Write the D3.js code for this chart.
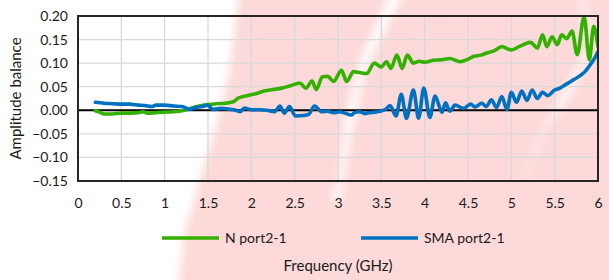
<!DOCTYPE html>
<html lang="en">
<head>
    <meta charset="UTF-8">
    <title>Amplitude balance</title>
    <script src="https://cdn.jsdelivr.net/npm/d3@7"></script>
    <style>
        body {
            margin: 0;
            background: #fff;
        }

        text {
            font-family: Lato, "Open Sans", sans-serif;
            fill: #1a1a1a;
        }

        .grid line {
            stroke: #d9d9d9;
            stroke-width: 1.3px;
        }
    </style>
</head>
<body>
<script>
    // N port2-1 (green)
    var freqN = [0.2, 0.25, 0.3, 0.4, 0.5, 0.6, 0.7, 0.75, 0.8, 0.9, 1.0, 1.1, 1.2, 1.3, 1.4, 1.5, 1.6, 1.7, 1.79, 1.85,
        1.95, 2.05, 2.15, 2.25, 2.35, 2.45, 2.56, 2.63, 2.7, 2.75, 2.82, 2.88, 2.95, 3.04, 3.1, 3.18, 3.25, 3.33, 3.42, 3.5,
        3.56, 3.61, 3.68, 3.74, 3.8, 3.87, 3.94, 4.0, 4.1, 4.18, 4.29, 4.41, 4.5, 4.56, 4.65, 4.71, 4.8, 4.89, 5.0, 5.1,
        5.22, 5.3, 5.36, 5.41, 5.47, 5.53, 5.58, 5.64, 5.7, 5.76, 5.84, 5.9, 5.95, 6.0];
    var ampN = [-0.001, -0.004, -0.008, -0.008, -0.006, -0.006, -0.005, -0.003, -0.006, -0.005, -0.004, -0.003, -0.001, 0.004, 0.009, 0.012, 0.014, 0.015, 0.018, 0.026,
        0.031, 0.035, 0.041, 0.044, 0.047, 0.052, 0.058, 0.047, 0.062, 0.044, 0.071, 0.072, 0.061, 0.085, 0.061, 0.082, 0.080, 0.078, 0.100, 0.092,
        0.103, 0.089, 0.117, 0.089, 0.117, 0.100, 0.104, 0.102, 0.106, 0.107, 0.110, 0.103, 0.108, 0.114, 0.117, 0.121, 0.126, 0.135, 0.128, 0.136,
        0.144, 0.132, 0.160, 0.135, 0.156, 0.139, 0.160, 0.152, 0.168, 0.118, 0.199, 0.107, 0.178, 0.135];

    // SMA port2-1 (blue)
    var freqSMA = [0.2, 0.3, 0.4, 0.5, 0.6, 0.7, 0.77, 0.85, 0.9, 1.0, 1.1, 1.2, 1.29, 1.35, 1.44, 1.49, 1.56, 1.65, 1.72, 1.8,
        1.87, 1.92, 2.0, 2.1, 2.18, 2.27, 2.33, 2.38, 2.44, 2.51, 2.6, 2.66, 2.73, 2.81, 2.88, 2.95, 3.02, 3.08, 3.15, 3.2,
        3.25, 3.31, 3.36, 3.42, 3.48, 3.55, 3.6, 3.67, 3.73, 3.79, 3.87, 3.93, 3.99, 4.06, 4.12, 4.2, 4.24, 4.29, 4.35, 4.45,
        4.53, 4.58, 4.66, 4.71, 4.77, 4.83, 4.89, 4.95, 5.0, 5.06, 5.12, 5.18, 5.24, 5.3, 5.36, 5.42, 5.5, 5.56, 5.64, 5.71,
        5.79, 5.85, 5.9, 5.96, 6.0];
    var ampSMA = [0.017, 0.015, 0.014, 0.013, 0.013, 0.011, 0.010, 0.008, 0.011, 0.011, 0.009, 0.008, 0.002, 0.006, 0.008, 0.011, 0.002, 0.004, 0.003, 0.001,
        -0.003, 0.005, 0.001, 0.001, 0.000, -0.003, 0.009, -0.006, 0.008, -0.012, -0.011, -0.009, 0.009, -0.003, -0.002, -0.005, -0.003, -0.006, -0.010, -0.004,
        -0.003, -0.007, -0.005, -0.004, -0.002, 0.002, 0.010, -0.012, 0.034, -0.017, 0.043, -0.017, 0.047, -0.015, 0.030, -0.004, 0.016, -0.002, 0.011, 0.004,
        0.013, 0.007, 0.015, 0.008, 0.022, 0.006, 0.029, 0.002, 0.038, 0.017, 0.041, 0.021, 0.043, 0.025, 0.038, 0.031, 0.043, 0.047, 0.056, 0.064,
        0.073, 0.082, 0.094, 0.110, 0.124];

    var seriesNames = ["N port2-1", "SMA port2-1"];
    var seriesColors = ["#33b000", "#0070c0"];
    var xTicks = [0, 0.5, 1, 1.5, 2, 2.5, 3, 3.5, 4, 4.5, 5, 5.5, 6];
    var yTicks = [-0.15, -0.10, -0.05, 0.00, 0.05, 0.10, 0.15, 0.20];

    var width = 609;
    var height = 280;
    var padding = {top: 16, right: 11, bottom: 99, left: 78};

    var svg = d3.select("body")
            .append("svg")
            .attr("width", width)
            .attr("height", height);

    // soft pink blotches seen behind the original picture
    var defs = svg.append("defs");
    defs.append("filter")
            .attr("id", "soft")
            .append("feGaussianBlur")
            .attr("stdDeviation", 4);
    var bg = svg.append("g").attr("filter", "url(#soft)");
    bg.append("path")
            .attr("d", "M240,-10 L392,-10 L360,60 L345,120 L338,185 L330,200 L500,215 L520,185 L545,130 L570,95 L592,50 L588,18 L580,-10 L620,-10 L620,290 L178,290 L185,230 L200,180 L215,130 L228,80 Z")
            .attr("fill", "#fdd9d9");
    bg.append("path")
            .attr("d", "M405,-10 L578,-10 L583,15 L590,45 L565,90 L540,135 L515,195 L500,215 L340,205 L350,140 L365,70 Z")
            .attr("fill", "#fdd9d9");
    bg.append("path")
            .attr("d", "M596,50 L620,30 L620,290 L590,290 Z")
            .attr("fill", "#fdd9d9");

    var x = d3.scaleLinear()
            .domain([0, 6])
            .range([padding.left, width - padding.right]);
    var y = d3.scaleLinear()
            .domain([-0.15, 0.20])
            .range([height - padding.bottom, padding.top]);

    // grid
    var grid = svg.append("g").attr("class", "grid");
    grid.selectAll("vline")
            .data(xTicks)
            .enter()
            .append("line")
            .attr("x1", function (d) { return x(d); })
            .attr("x2", function (d) { return x(d); })
            .attr("y1", y(0.20))
            .attr("y2", y(-0.15));
    grid.selectAll("hline")
            .data(yTicks)
            .enter()
            .append("line")
            .attr("x1", x(0))
            .attr("x2", x(6))
            .attr("y1", function (d) { return y(d); })
            .attr("y2", function (d) { return y(d); });

    // zero line
    svg.append("line")
            .attr("x1", x(0))
            .attr("x2", x(6))
            .attr("y1", y(0))
            .attr("y2", y(0))
            .attr("stroke", "#000")
            .attr("stroke-width", 2);

    // axes (labels only, Excel style)
    var xAxis = svg.append("g")
            .attr("transform", "translate(0," + (y(-0.15) + 14) + ")")
            .call(d3.axisBottom(x).tickValues(xTicks).tickSize(0).tickFormat(d3.format("")));
    xAxis.select(".domain").remove();
    xAxis.selectAll("text")
            .style("font-size", "14px")
            .attr("dy", "0.71em");

    var yAxis = svg.append("g")
            .attr("transform", "translate(" + (x(0) - 10) + ",0)")
            .call(d3.axisLeft(y).tickValues(yTicks).tickSize(0).tickFormat(d3.format(".2f")));
    yAxis.select(".domain").remove();
    yAxis.selectAll("text")
            .style("font-size", "14px")
            .attr("x", 0);

    // lines
    var line = d3.line()
            .x(function (d) { return x(d[0]); })
            .y(function (d) { return y(d[1]); })
            .curve(d3.curveMonotoneX);

    var seriesData = [d3.zip(freqN, ampN), d3.zip(freqSMA, ampSMA)];

    svg.append("defs").append("clipPath")
            .attr("id", "plotclip")
            .append("rect")
            .attr("x", x(0))
            .attr("y", y(0.20) - 2)
            .attr("width", x(6) - x(0))
            .attr("height", y(-0.15) - y(0.20) + 4);

    svg.append("g")
            .attr("clip-path", "url(#plotclip)")
            .selectAll("path")
            .data(seriesData)
            .enter()
            .append("path")
            .attr("d", line)
            .attr("fill", "none")
            .attr("stroke", function (d, i) { return seriesColors[i]; })
            .attr("stroke-width", 3.6)
            .attr("stroke-linejoin", "round")
            .attr("stroke-linecap", "round");

    // plot frame
    svg.append("rect")
            .attr("x", x(0))
            .attr("y", y(0.20))
            .attr("width", x(6) - x(0))
            .attr("height", y(-0.15) - y(0.20))
            .attr("fill", "none")
            .attr("stroke", "#262626")
            .attr("stroke-width", 2);

    // legend
    var legendX = [162, 361];
    var legend = svg.append("g")
            .selectAll("g")
            .data(seriesNames)
            .enter()
            .append("g")
            .attr("transform", function (d, i) { return "translate(" + legendX[i] + ",238)"; });
    legend.append("line")
            .attr("x1", 0)
            .attr("x2", 57)
            .attr("stroke", function (d, i) { return seriesColors[i]; })
            .attr("stroke-width", 3.6);
    legend.append("text")
            .attr("x", 63)
            .attr("dy", "0.35em")
            .style("font-size", "14px")
            .text(function (d) { return d; });

    // axis titles
    svg.append("text")
            .attr("x", (x(0) + x(6)) / 2)
            .attr("y", 266)
            .attr("dy", "0.35em")
            .attr("text-anchor", "middle")
            .style("font-size", "15px")
            .text("Frequency (GHz)");

    svg.append("text")
            .attr("transform", "translate(16," + ((y(0.20) + y(-0.15)) / 2) + ") rotate(-90)")
            .attr("dy", "0.35em")
            .attr("text-anchor", "middle")
            .style("font-size", "15px")
            .text("Amplitude balance");
</script>
</body>
</html>
